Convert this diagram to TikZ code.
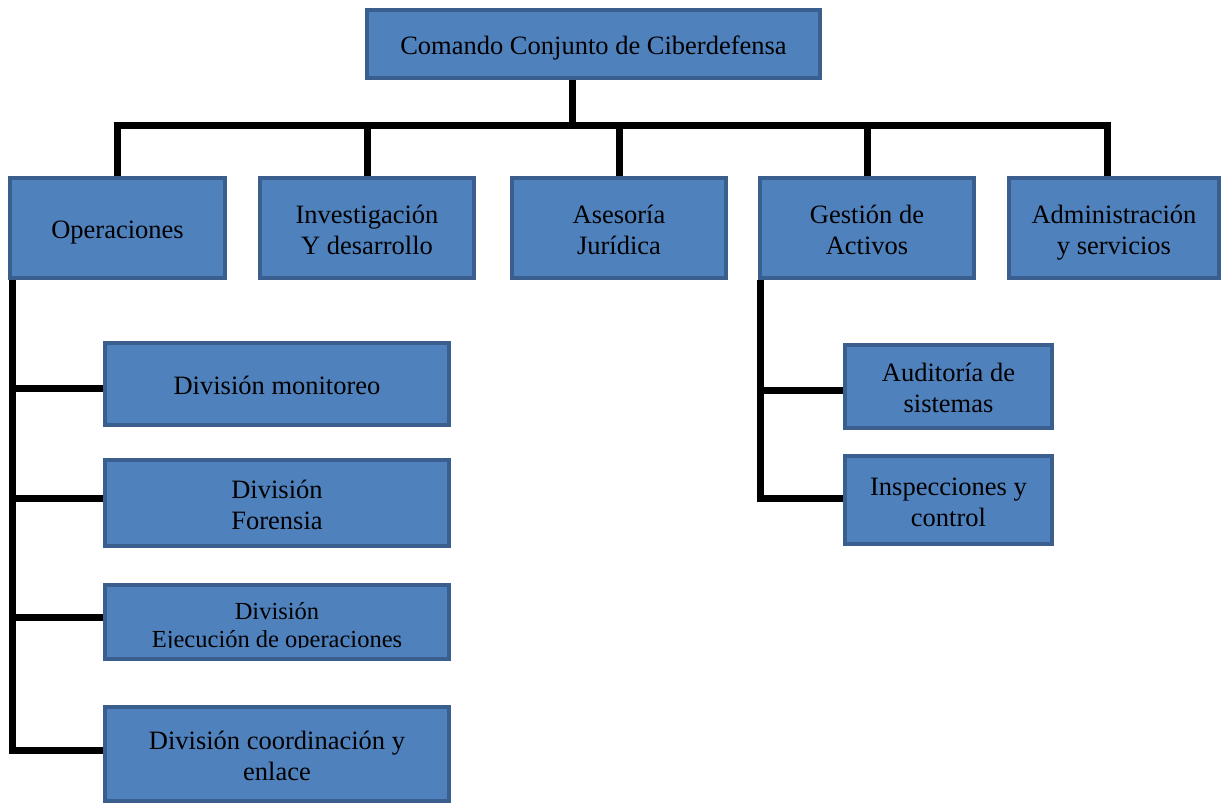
\documentclass[tikz,border=0pt]{standalone}
\usepackage{fontspec}
\setmainfont{Liberation Serif}
\definecolor{boxfill}{HTML}{4F81BD}
\definecolor{boxline}{HTML}{3A5F8E}
\newcommand{\twoline}[2]{\begin{tabular}{@{}c@{}}\rule{0pt}{30.5pt}#1\\#2\rule[-6pt]{0pt}{6pt}\end{tabular}}
\begin{document}
\begin{tikzpicture}[x=1pt,y=-1pt,
  base/.style={draw=boxline, fill=boxfill, line width=4pt, inner sep=0pt,
    font=\fontsize{26.5}{31}\selectfont, text=black},
  box/.style={base, align=center,
    execute at begin node={\rule{0pt}{26pt}},
    execute at end node={\rule[-6pt]{0pt}{6pt}}},
  box2/.style={base, execute at begin node={\renewcommand{\arraystretch}{1}\setlength{\tabcolsep}{0pt}\setlength{\baselineskip}{31pt}}},
  conn/.style={line width=7pt, black}]
\useasboundingbox (0,0) rectangle (1221,803);
% boxes
\node[box, minimum width=453, minimum height=68] (top) at (593.5,44) {Comando Conjunto de Ciberdefensa};
\node[box, minimum width=215, minimum height=100] (op) at (117.5,228) {Operaciones};
\node[box2, minimum width=214, minimum height=100] (inv) at (367,228) {\twoline{Investigación}{Y desarrollo}};
\node[box2, minimum width=214, minimum height=100] (ase) at (619,228) {\twoline{Asesoría}{Jurídica}};
\node[box2, minimum width=214, minimum height=100] (ges) at (867,228) {\twoline{Gestión de}{Activos}};
\node[box2, minimum width=210, minimum height=100] (adm) at (1114,228) {\twoline{Administración}{y servicios}};
\node[box, minimum width=344, minimum height=82] (mon) at (277,384) {División monitoreo};
\node[box2, minimum width=344, minimum height=86] (for) at (277,503) {\twoline{División}{Forensia}};
\node[base, minimum width=344, minimum height=74] (eje) at (277,622) {};
\begin{scope}
  \clip (107,585) rectangle (447,647.5);
  \node[align=center, inner sep=0pt, font=\fontsize{24.5}{28}\selectfont] (ejetxt) at (277,628) {División\\Ejecución de operaciones};
\end{scope}
\node[box2, minimum width=344, minimum height=94] (coo) at (277,754) {\twoline{División coordinación y}{enlace}};
\node[box2, minimum width=207, minimum height=83] (aud) at (948.5,386.5) {\twoline{Auditoría de}{sistemas}};
\node[box2, minimum width=207, minimum height=88] (ins) at (948.5,500) {\twoline{Inspecciones y}{control}};
% connectors
\coordinate (tj) at (572,125);
\coordinate (hl) at (113.5,125);
\coordinate (hr) at (1110.5,125);
\draw[conn] (tj |- top.south) -- (tj);
\draw[conn] (hl) -- (hr);
\draw[conn] (op.north |- hl) -- (op.north);
\draw[conn] (inv.north |- hl) -- (inv.north);
\draw[conn] (ase.north |- hl) -- (ase.north);
\draw[conn] (ges.north |- hl) -- (ges.north);
\draw[conn] (1107,125) -- (1107,176);
% left tree
\coordinate (lt) at (12,280);
\coordinate (lb) at (12,753.5);
\draw[conn] (lt) -- (lb);
\draw[conn] (12,388) -- (mon.west |- 0,388);
\draw[conn] (12,498) -- (for.west |- 0,498);
\draw[conn] (12,617) -- (eje.west |- 0,617);
\draw[conn] (8.5,750) -- (coo.west |- 0,750);
% right tree
\coordinate (rt) at (760,280);
\coordinate (rb) at (760,501.5);
\draw[conn] (rt) -- (rb);
\draw[conn] (760,390) -- (aud.west |- 0,390);
\draw[conn] (756.5,498) -- (ins.west |- 0,498);
\end{tikzpicture}
\end{document}
